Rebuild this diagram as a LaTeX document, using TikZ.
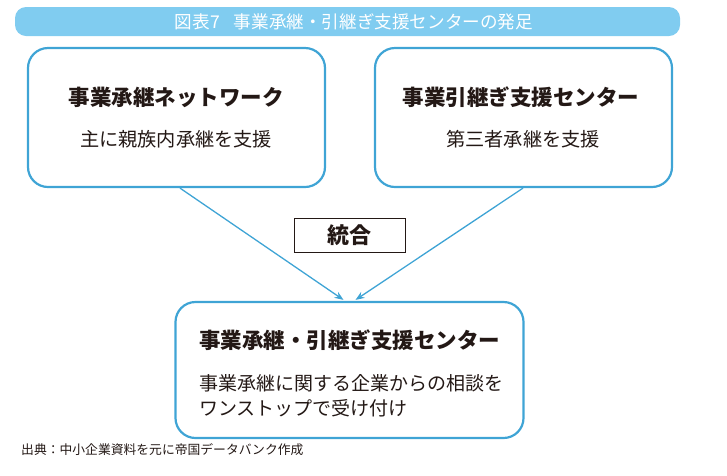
\documentclass[tikz,border=0pt]{standalone}
\usepackage{fontspec}
\setmainfont{Noto Sans CJK JP}
\usetikzlibrary{arrows.meta}
\definecolor{boxblue}{HTML}{3FA4D5}
\definecolor{barblue}{HTML}{80CCF0}
\definecolor{ink}{HTML}{231815}
\tikzset{
  rbox/.style={draw=boxblue, line width=2.2pt, rounded corners=20pt, inner sep=0pt},
  ttl/.style={font=\fontsize{21.5}{24}\selectfont\bfseries, text=ink, inner sep=0pt, anchor=center},
  sub/.style={font=\fontsize{19.2}{24}\selectfont, text=ink, inner sep=0pt, anchor=center},
  body/.style={font=\fontsize{19}{25}\selectfont, text=ink, inner sep=0pt, anchor=west},
  arr/.style={draw=boxblue, line width=1.3pt, -{Stealth[length=9pt,width=7pt]}},
}
\begin{document}
\begin{tikzpicture}[x=1pt,y=-1pt]
\useasboundingbox (0,0) rectangle (727,475);
% title bar
\fill[barblue, rounded corners=11pt] (15,7) rectangle (680,36);
\node[font=\fontsize{17.6}{20}\selectfont, text=white, inner sep=0pt] (title) at (354,21.5) {図表7\hspace{0.8em}事業承継・引継ぎ支援センターの発足};
% left box
\node[rbox, minimum width=297pt, minimum height=139pt] (L) at (176.5,117.5) {};
\node[ttl] (Lt) at (176,97) {事業承継ネットワーク};
\node[sub] (Ls) at (176,139) {主に親族内承継を支援};
% right box
\node[rbox, minimum width=297pt, minimum height=139pt] (R) at (523.5,117.5) {};
\node[ttl] (Rt) at (521,97) {事業引継ぎ支援センター};
\node[sub] (Rs) at (523,139) {第三者承継を支援};
% integration box
\node[draw=ink, line width=0.8pt, minimum width=111pt, minimum height=34pt, inner sep=0pt,
      font=\fontsize{22}{24}\selectfont\bfseries, text=ink] (M) at (349.5,235) {統合};
% bottom box
\node[rbox, minimum width=348pt, minimum height=136pt] (B) at (349.5,370) {};
\node[ttl, anchor=west] (Bt) at (199,340) {事業承継・引継ぎ支援センター};
\node[body] (Bb1) at (199,383) {事業承継に関する企業からの相談を};
\node[body] (Bb2) at (199,408) {ワンストップで受け付け};
% arrows
\draw[arr] ([xshift=3.5pt]L.south) -- ([xshift=-6pt,yshift=1pt]B.north);
\draw[arr] ([xshift=-0.5pt]R.south) -- ([xshift=6pt,yshift=1pt]B.north);
% source
\node[font=\fontsize{12.8}{15}\selectfont, text=ink, inner sep=0pt, anchor=west] (src) at (21,450) {出典：中小企業資料を元に帝国データバンク作成};
\end{tikzpicture}
\end{document}
